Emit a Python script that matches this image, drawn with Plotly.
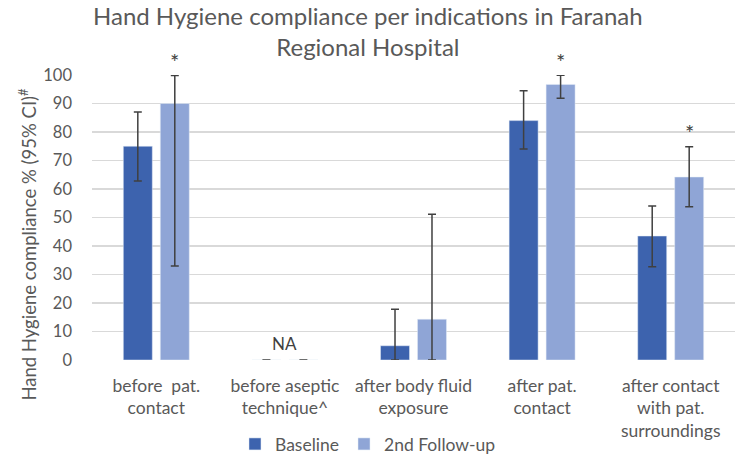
import plotly.graph_objects as go

categories = ["before  pat.<br>contact", "before aseptic<br>technique^", "after body fluid<br>exposure",
              "after pat.<br>contact", "after contact<br>with pat.<br>surroundings"]
baseline = [75, 0, 5, 84, 43.5]
baseline_lo = [62.8, 0, 0, 74, 32.7]
baseline_hi = [87, 0, 17.8, 94.5, 54]
follow = [90, 0, 14.3, 96.7, 64.2]
follow_lo = [33, 0, 0, 91.8, 53.8]
follow_hi = [99.8, 0, 51.1, 99.9, 74.8]
significant = [True, False, False, True, True]
na_flags = [False, True, False, False, False]

FONT = "Lato"
GRAY = "#595959"

def err(v, lo, hi):
    return dict(type="data", symmetric=False,
                array=[h - x for x, h in zip(v, hi)],
                arrayminus=[x - l for x, l in zip(v, lo)],
                color="#404040", thickness=1.5, width=4)

fig = go.Figure()
fig.add_trace(go.Bar(name="Baseline", x=categories, y=baseline, marker_color="#3D63AE",
                     error_y=err(baseline, baseline_lo, baseline_hi)))
fig.add_trace(go.Bar(name="2nd Follow-up", x=categories, y=follow, marker_color="#8FA5D6",
                     error_y=err(follow, follow_lo, follow_hi)))

annotations = []
for c, s, h in zip(categories, significant, follow_hi):
    if s:
        annotations.append(dict(x=c, y=h, xref="x", yref="y", text="*", showarrow=False,
                                xshift=18.5, yshift=14, font=dict(size=22, color="#404040", family=FONT)))
for c, n in zip(categories, na_flags):
    if n:
        annotations.append(dict(x=c, y=0, xref="x", yref="y", text="NA", showarrow=False,
                                yshift=17, font=dict(size=17, color="#404040", family=FONT)))

# chart title
annotations.append(dict(text="Hand Hygiene compliance per indications in Faranah<br>Regional Hospital",
                        x=0.429, xref="paper", xanchor="center", y=1.268, yref="paper", yanchor="top",
                        showarrow=False, font=dict(size=24, color=GRAY, family=FONT)))
# y axis title
annotations.append(dict(text="Hand Hygiene compliance % (95% CI)<sup>#</sup>", textangle=-90,
                        x=-0.0995, xref="paper", xanchor="center", y=0.405, yref="paper", yanchor="middle",
                        showarrow=False, font=dict(size=18.5, color=GRAY, family=FONT)))

fig.update_layout(
    width=744, height=464,
    margin=dict(l=92, r=9, t=75, b=104),
    paper_bgcolor="white", plot_bgcolor="white",
    font=dict(family=FONT, color=GRAY, size=16),
    barmode="group", bargap=0.425, bargroupgap=0.216,
    legend=dict(orientation="h", x=0.4946, xanchor="center", xref="container",
                y=0.043, yanchor="middle", yref="container", font=dict(size=17.5, color=GRAY),
                traceorder="normal"),
    annotations=annotations,
)
fig.update_yaxes(range=[0, 100], dtick=10, showgrid=True, gridcolor="#D9D9D9", gridwidth=1.2,
                 zeroline=False, showline=False, ticklabelstandoff=19, automargin=False,
                 tickfont=dict(size=16.5, color=GRAY))
fig.update_xaxes(showline=False, tickfont=dict(size=17.5, color=GRAY), ticks="",
                 ticklabelstandoff=13, automargin=False)

fig.write_html("out.html", config={"displayModeBar": False, "staticPlot": True},
               post_script="document.body.style.margin='0';")
